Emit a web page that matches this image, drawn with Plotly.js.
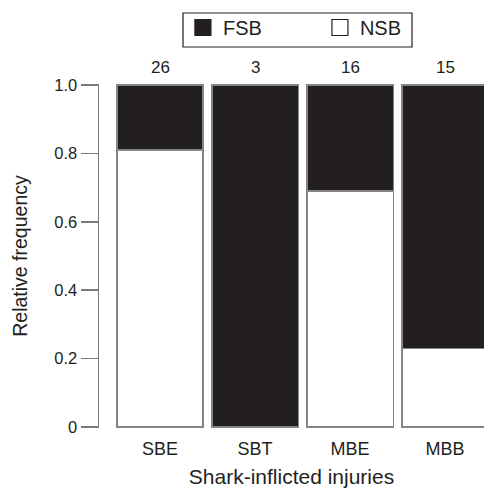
<!DOCTYPE html>
<html><head><meta charset="utf-8">
<script src="https://cdn.plot.ly/plotly-3.0.1.min.js"></script>
<style>html,body{margin:0;padding:0;background:#fff}</style>
</head><body><div id="chart" style="width:484px;height:490px"></div>
<script>
const categories = ['SBE', 'SBT', 'MBE', 'MBB'];
const nsb = [0.81, 0.0, 0.69, 0.23];
const fsb = [0.19, 1.0, 0.31, 0.77];
const counts = ['26', '3', '16', '15'];
const yTickVals = [0, 0.2, 0.4, 0.6, 0.8, 1.0];
const yTickText = ['0', '0.2', '0.4', '0.6', '0.8', '1.0'];
const legendNames = ['FSB', 'NSB'];
const legendFills = ['#231f20', '#ffffff'];

const dark = '#231f20';
const edge = '#858585';

const traces = [
  {type: 'bar', name: 'NSB', x: categories, y: nsb, width: 0.91, showlegend: false,
   marker: {color: '#ffffff', line: {color: edge, width: 1.5}}},
  {type: 'bar', name: 'FSB', x: categories, y: fsb, width: 0.91, showlegend: false,
   marker: {color: dark, line: {color: edge, width: 1.5}}}
];
// legend-only key entries (no data drawn)
legendNames.forEach((n, i) => traces.push({
  type: 'scatter', mode: 'markers', name: n, x: [null], y: [null], showlegend: true,
  marker: {symbol: 'square', size: 16, color: legendFills[i], line: {color: dark, width: 1.2}}
}));

const annotations = categories.map((c, i) => ({
  x: c, y: 1.0, xref: 'x', yref: 'y', text: counts[i], showarrow: false,
  yanchor: 'bottom', yshift: 6, font: {size: 17, color: dark}
}));

const layout = {
  width: 484, height: 490,
  margin: {l: 99, r: 0, t: 84, b: 62, pad: 0},
  paper_bgcolor: '#fff', plot_bgcolor: '#fff',
  font: {family: 'Liberation Sans, Arial, sans-serif', color: dark, size: 16},
  barmode: 'stack',
  showlegend: true,
  legend: {orientation: 'h', x: 0.218, y: 1.221, xanchor: 'left', yanchor: 'top',
    borderwidth: 0, bgcolor: 'rgba(0,0,0,0)', traceorder: 'normal', itemsizing: 'trace',
    font: {size: 20, color: dark}, entrywidth: 92, entrywidthmode: 'pixels'},
  shapes: [{type: 'rect', xref: 'paper', yref: 'paper', x0: 0.2182, x1: 0.813,
    y0: 1.1076, y1: 1.2064, line: {color: dark, width: 1.2}, fillcolor: 'rgba(0,0,0,0)'}],
  xaxis: {type: 'category', range: [-0.642, 3.41], showline: false, showgrid: false,
    zeroline: false, ticks: 'outside', ticklen: 4, tickcolor: 'rgba(0,0,0,0)',
    tickfont: {size: 18, color: dark}, fixedrange: true,
    title: {text: 'Shark-inflicted injuries', font: {size: 21, color: dark}, standoff: 11}},
  yaxis: {range: [-0.003, 1.003], tickvals: yTickVals, ticktext: yTickText,
    showline: true, linecolor: '#7a7a7a', linewidth: 1.5, showgrid: false, zeroline: false,
    ticks: 'outside', ticklen: 17, tickwidth: 1.5, tickcolor: '#7a7a7a',
    tickfont: {size: 16.5, color: dark},
    title: {text: 'Relative frequency', font: {size: 19.5, color: dark}, standoff: 21}},
  annotations: annotations
};

Plotly.newPlot('chart', traces, layout, {displayModeBar: false, staticPlot: true});
</script></body></html>
